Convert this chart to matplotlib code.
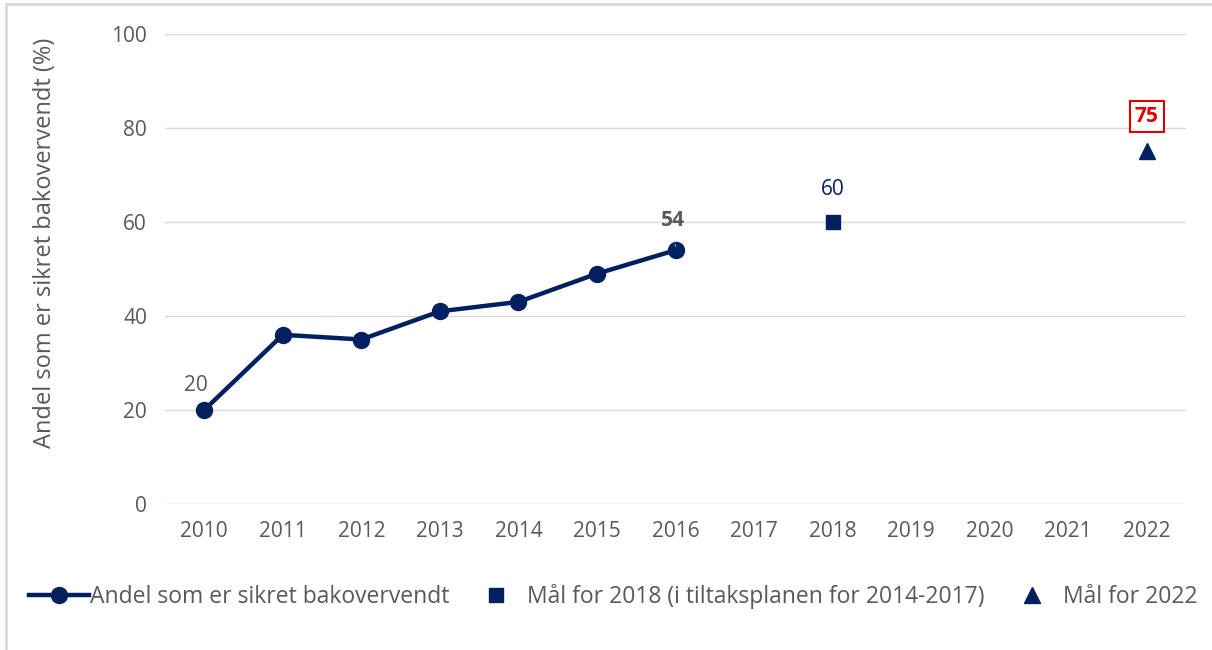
import matplotlib.pyplot as plt
from matplotlib.lines import Line2D

plt.rcParams['font.family'] = ['Open Sans', 'DejaVu Sans']

years = ["2010", "2011", "2012", "2013", "2014", "2015", "2016", "2017",
         "2018", "2019", "2020", "2021", "2022"]
andel = [20, 36, 35, 41, 43, 49, 54]
maal_2018 = 60
maal_2022 = 75

navy = '#002060'
grey = '#595959'

fig = plt.figure(figsize=(12.12, 6.5), dpi=100)
ax = fig.add_axes([0.1361, 0.2246, 0.8425, 0.7231])

x = list(range(len(years)))
ax.plot(x[:len(andel)], andel, color=navy, lw=3.2, marker='o', ms=11.5,
        label='Andel som er sikret bakovervendt', zorder=3)
ax.plot([years.index("2018")], [maal_2018], ls='none', marker='s', ms=10,
        color=navy, label='Mål for 2018 (i tiltaksplanen for 2014-2017)', zorder=3)
ax.plot([years.index("2022")], [maal_2022], ls='none', marker='^', ms=12,
        color=navy, label='Mål for 2022', zorder=3)

# data labels
ax.text(0 - 0.1, andel[0] + 5.3, str(andel[0]), ha='center', va='center',
        fontsize=15, color=grey)
ax.annotate(str(andel[-1]), xy=(6, andel[-1] + 0.8), xytext=(6 - 0.03, andel[-1] + 6.4),
            ha='center', va='center', fontsize=15, color=grey, fontweight='bold',
            arrowprops=dict(arrowstyle='-', color='#a6a6a6', lw=0.8, shrinkA=8, shrinkB=0))
ax.text(8, maal_2018 + 7, str(maal_2018), ha='center', va='center',
        fontsize=15, color=navy)
ax.text(12, maal_2022 + 7.4, str(maal_2022), ha='center', va='center',
        fontsize=15, color='#e00000', fontweight='bold',
        bbox=dict(boxstyle='square,pad=0.25', fc='white', ec='#e00000', lw=1.5))

ax.set_xlim(-0.5, len(years) - 0.5)
ax.set_ylim(0, 100)
ax.set_xticks(x)
ax.set_xticklabels(years)
ax.set_yticks(range(0, 101, 20))
ax.tick_params(length=0, labelsize=15, labelcolor=grey)
ax.tick_params(axis='y', pad=13)
ax.tick_params(axis='x', pad=12)
ax.grid(axis='y', color='#d9d9d9', lw=1)
ax.set_axisbelow(True)
for s in ax.spines.values():
    s.set_visible(False)
ax.set_ylabel('Andel som er sikret bakovervendt (%)', fontsize=17, color=grey)
ax.yaxis.set_label_coords(-0.106, 0.555)

fig.legend(loc='center', bbox_to_anchor=(0.506, 0.082), ncol=3, frameon=False,
           fontsize=16.5, labelcolor=grey, handlelength=2.6, handletextpad=0.05,
           columnspacing=0.75)

# chart border (top and left only visible)
fig.add_artist(Line2D([0.005, 1.0], [0.994, 0.994], transform=fig.transFigure,
                      color='#d9d9d9', lw=2))
fig.add_artist(Line2D([0.005, 0.005], [0.0, 0.994], transform=fig.transFigure,
                      color='#d9d9d9', lw=2))

fig.savefig('out.png', dpi=100)
